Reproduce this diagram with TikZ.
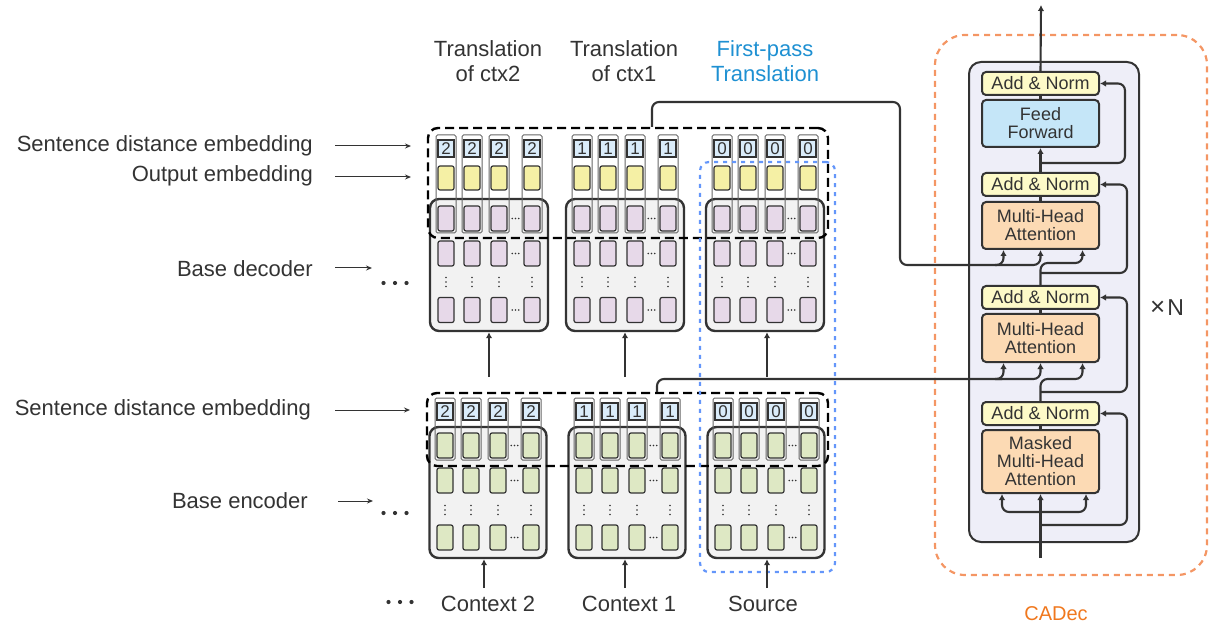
\documentclass[tikz,border=0pt]{standalone}
\usepackage{fontspec}
\setmainfont{Liberation Sans}
\usetikzlibrary{calc,arrows.meta}
\definecolor{dk}{RGB}{51,51,51}
\definecolor{grayfill}{RGB}{242,242,242}
\definecolor{purp}{RGB}{231,217,233}
\definecolor{grn}{RGB}{222,232,196}
\definecolor{ylw}{RGB}{245,240,165}
\definecolor{lblue}{RGB}{218,236,250}
\definecolor{lav}{RGB}{238,238,248}
\definecolor{anfill}{RGB}{253,250,200}
\definecolor{fffill}{RGB}{197,230,248}
\definecolor{mhafill}{RGB}{252,218,180}
\definecolor{orng}{RGB}{244,150,100}
\definecolor{bdash}{RGB}{100,150,250}
\definecolor{btext}{RGB}{30,144,210}
\definecolor{otext}{RGB}{240,120,30}
\tikzset{
 vdts/.pic={\foreach \k in {-4.5,0,4.5} \fill[dk] (0,\k) circle (0.9pt);},
 hdts/.pic={\foreach \k in {-3.2,0,3.2} \fill[dk] (\k,0) circle (0.85pt);},
 bigdts/.pic={\foreach \k in {-11.5,0,11.5} \fill[dk] (\k,0) circle (2.1pt);},
}
\begin{document}
\begin{tikzpicture}[x=1pt,y=-1pt,
 lbl/.style={font=\fontsize{22}{25}\selectfont, text=dk, inner sep=0pt, align=center},
 grp/.style={draw=dk, fill=grayfill, line width=2.4pt, rounded corners=9pt, inner sep=0pt},
 cell/.style={draw=dk, line width=1.2pt, rounded corners=2pt, minimum width=16pt, minimum height=25pt, inner sep=0pt},
 numbox/.style={draw=dk, line width=1.2pt, fill=lblue, minimum width=16pt, minimum height=17pt, inner sep=0pt, font=\fontsize{17}{17}\selectfont, text=dk},
 colbox/.style={draw=dk!75, line width=1pt, rounded corners=1.5pt, inner sep=0pt, minimum width=20pt},
 blkdash/.style={draw=black, line width=2.4pt, dash pattern=on 9pt off 5pt, rounded corners=10pt, inner sep=0pt},
 conn/.style={draw=dk, line width=2.1pt, rounded corners=7pt},
 arr/.style={conn, -{Latex[length=6pt,width=6.5pt]}},
 thinarr/.style={draw=dk, line width=1pt, -{Stealth[length=6pt,width=5pt]}},
 blk/.style={draw=dk, line width=2pt, rounded corners=4pt, minimum width=117pt, inner sep=0pt, align=center, text=dk, font=\fontsize{18}{18}\selectfont},
]
\useasboundingbox (0,0) rectangle (1210,628);

% ---------- CADec background
\node[draw=orng, line width=2.2pt, dash pattern=on 6pt off 5pt, rounded corners=30pt, minimum width=272pt, minimum height=540pt, inner sep=0pt] (cadecbox) at (1071,305) {};
\node[draw=dk, fill=lav, line width=2pt, rounded corners=12pt, minimum width=170pt, minimum height=480pt, inner sep=0pt] (layer) at (1054,302) {};

% ---------- top labels
\node[lbl] (t2) at (488,61) {Translation\\of ctx2};
\node[lbl] (t1) at (624,61) {Translation\\of ctx1};
\node[lbl, text=btext] (t0) at (765,61) {First-pass\\Translation};

% ---------- left labels
\node[lbl, anchor=base east] (sde1) at (313,152) {Sentence distance embedding};
\node[lbl, anchor=base east] (oe) at (313,182) {Output embedding};
\node[lbl, anchor=base east] (bd) at (313,277) {Base decoder};
\node[lbl, anchor=base east] (sde2) at (311,415) {Sentence distance embedding};
\node[lbl, anchor=base east] (be) at (308,508) {Base encoder};
\draw[thinarr] ([xshift=22pt,yshift=6pt]sde1.base east) -- ++(76,0);
\draw[thinarr] ([xshift=22pt,yshift=5pt]oe.base east) -- ++(76,0);
\draw[thinarr] ([xshift=22pt,yshift=9pt]bd.base east) -- ++(37,0);
\draw[thinarr] ([xshift=24pt,yshift=5pt]sde2.base east) -- ++(75,0);
\draw[thinarr] ([xshift=30pt,yshift=7pt]be.base east) -- ++(35,0);
\pic at (395,283) {bigdts};
\pic at (395,513) {bigdts};
\pic at (400,602) {bigdts};

% ---------- decoder groups
\foreach \g/\gx in {2/489,1/625,0/765}{
 \begin{scope}[xshift=\gx pt]
  \node[grp, minimum width=118pt, minimum height=132pt] (dgrp\g) at (0,265) {};
  \foreach \i/\dx in {1/-43,2/-17,3/10,4/43}{
    \node[numbox] (dn\g\i) at (\dx,148.5) {\g};
    \node[cell, fill=ylw, minimum height=24pt] (dy\g\i) at (\dx,178) {};
    \node[cell, fill=purp] (da\g\i) at (\dx,218.5) {};
    \node[cell, fill=purp] (db\g\i) at (\dx,253.5) {};
    \pic at (\dx,282) {vdts};
    \node[cell, fill=purp] (dc\g\i) at (\dx,310) {};
    \node[colbox, minimum height=98pt] (dcol\g\i) at (\dx,184) {};
  }
  \foreach \yy in {218.5,253.5,310} \pic at (26.5,\yy) {hdts};
 \end{scope}
}

% ---------- encoder groups
\foreach \g/\gx in {2/488,1/627,0/766}{
 \begin{scope}[xshift=\gx pt]
  \node[grp, minimum width=117pt, minimum height=131pt] (egrp\g) at (0,492.5) {};
  \foreach \i/\dx in {1/-43,2/-17,3/10,4/43}{
    \node[numbox] (en\g\i) at (\dx,411.5) {\g};
    \node[cell, fill=grn] (ea\g\i) at (\dx,445.5) {};
    \node[cell, fill=grn] (eb\g\i) at (\dx,480.5) {};
    \pic at (\dx,510) {vdts};
    \node[cell, fill=grn] (ec\g\i) at (\dx,537.5) {};
    \node[colbox, minimum height=62pt] (ecol\g\i) at (\dx,429) {};
  }
  \foreach \yy in {445.5,480.5,537.5} \pic at (26.5,\yy) {hdts};
 \end{scope}
}

% ---------- dashed groupings
\node[blkdash, minimum width=400pt, minimum height=110pt] (ddash) at (628,183) {};
\node[blkdash, minimum width=401pt, minimum height=73pt] (edash) at (627.5,429.5) {};
\node[draw=bdash, line width=2.2pt, dash pattern=on 4pt off 5pt, rounded corners=9pt, minimum width=135pt, minimum height=410pt, inner sep=0pt] (fp) at (767.5,367) {};

% ---------- encoder -> decoder arrows
\draw[arr] ([yshift=-45pt]dgrp2.south) -- (dgrp2.south);
\draw[arr] ([yshift=-45pt]dgrp1.south) -- (dgrp1.south);
\draw[arr] ([xshift=2pt,yshift=-45pt]dgrp0.south) -- ([xshift=2pt]dgrp0.south);

% ---------- bottom labels
\node[lbl, anchor=base] (ctx2) at (488,611) {Context 2};
\node[lbl, anchor=base] (ctx1) at (629,611) {Context 1};
\node[lbl, anchor=base] (src) at (763,611) {Source};
\draw[arr] ([xshift=-4pt,yshift=-29pt]egrp2.south) -- ([xshift=-4pt]egrp2.south);
\draw[arr] ([xshift=-2pt,yshift=-29pt]egrp1.south) -- ([xshift=-2pt]egrp1.south);
\draw[arr] ([xshift=1pt,yshift=-29pt]egrp0.south) -- ([xshift=1pt]egrp0.south);

% ---------- CADec blocks
\node[blk, fill=anfill, minimum height=23pt] (an1) at (1040.5,83.5) {Add \& Norm};
\node[blk, fill=fffill, minimum height=47pt] (ff) at (1040.5,123.5) {Feed\\Forward};
\node[blk, fill=anfill, minimum height=23pt] (an2) at (1040.5,184.5) {Add \& Norm};
\node[blk, fill=mhafill, minimum height=47pt] (mha1) at (1040.5,225.5) {Multi-Head\\Attention};
\node[blk, fill=anfill, minimum height=23pt] (an3) at (1040.5,297.5) {Add \& Norm};
\node[blk, fill=mhafill, minimum height=48pt] (mha2) at (1040.5,338) {Multi-Head\\Attention};
\node[blk, fill=anfill, minimum height=23pt] (an4) at (1040.5,413.5) {Add \& Norm};
\node[blk, fill=mhafill, minimum height=63pt] (mmha) at (1040.5,461.5) {Masked\\Multi-Head\\Attention};

\node[font=\fontsize{23}{23}\selectfont, text=dk, anchor=base west, inner sep=0pt] (xn) at (1150,316) {{\fontsize{26}{26}\selectfont ×}\hspace{2pt}N};
\node[font=\fontsize{20}{20}\selectfont, text=otext, anchor=base, inner sep=0pt] (cadec) at (1056,620) {CADec};

% ---------- CADec connectors
\coordinate (cin) at (1040.5,558);
\coordinate (out) at (1041,5);
\draw[conn] (mmha.north) -- (an4.south);
\draw[conn] (mha2.north) -- (an3.south);
\draw[conn] (mha1.north) -- (an2.south);
\draw[conn] (ff.north) -- (an1.south);
\draw[arr] (an2.north) -- (ff.south);
\draw[arr] (an1.north) -- (out);

% masked attention
\draw[arr] (cin) -- (mmha.south);
\coordinate (bm) at (1040.5,512);
\draw[arr] (bm) -| ($(mmha.south)+(-38.5,0)$);
\draw[arr] (bm) -| ($(mmha.south)+(45.5,0)$);
\coordinate (rm) at (1040.5,525);
\draw[arr] (rm) -| (1127,413.5) -- (an4.east);

% encoder-decoder attention
\coordinate (e1) at ($(edash.north)+(29.5,0)$);
\coordinate (ebr) at (995,379);
\draw[arr] (e1) |- (ebr) -| ($(mha2.south)+(-37,0)$);
\draw[arr] (ebr) -| (mha2.south);
\draw[arr] (an4.north) |- (1060,379) -| ($(mha2.south)+(42,0)$);
\coordinate (r2) at (1040.5,392);
\draw[arr] (r2) -| (1127,297.5) -- (an3.east);

% decoder attention
\coordinate (d1) at ($(ddash.north)+(24,0)$);
\coordinate (dbr) at (995,265);
\draw[arr] (d1) |- (900,102) -- (900,265) -| ($(mha1.south)+(-37,0)$);
\draw[arr] (dbr) -| (mha1.south);
\draw[arr] (an3.north) |- (1060,263) -| ($(mha1.south)+(42,0)$);
\coordinate (r1) at (1040.5,273);
\draw[arr] (r1) -| (1127,184.5) -- (an2.east);

% feed forward residual
\coordinate (r0) at (1040.5,163);
\draw[arr] (r0) -| (1125,83.5) -- (an1.east);
\end{tikzpicture}
\end{document}
